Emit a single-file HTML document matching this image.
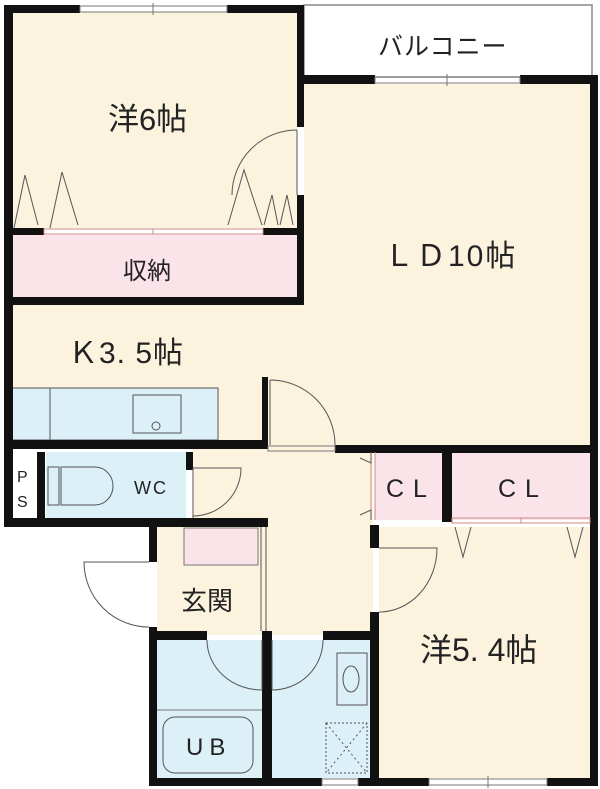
<!DOCTYPE html>
<html><head><meta charset="utf-8"><style>
html,body{margin:0;padding:0;background:#fff}
svg{display:block}
text{font-family:"Liberation Sans","Noto Sans CJK JP",sans-serif;fill:#222}
</style></head><body>
<svg width="600" height="789" viewBox="0 0 600 789" xmlns="http://www.w3.org/2000/svg">
<!-- fills -->
<rect x="12" y="12" width="285" height="216" fill="#fcf3df"/>
<rect x="12" y="235" width="285" height="62" fill="#fbe3ea"/>
<rect x="12" y="305" width="292" height="140" fill="#fcf3df"/>
<rect x="304" y="84" width="286" height="362" fill="#fcf3df"/>
<rect x="12" y="388" width="206" height="52" fill="#dcf0f8" stroke="#555" stroke-width="1"/>
<line x1="50" y1="388" x2="50" y2="440" stroke="#555"/>
<rect x="133" y="395" width="48" height="38" fill="none" stroke="#555"/>
<circle cx="156" cy="426" r="4" fill="none" stroke="#555"/>
<rect x="12" y="452" width="24" height="68" fill="#fff"/>
<rect x="46" y="452" width="140" height="66" fill="#dcf0f8"/>
<rect x="193" y="445" width="180" height="190" fill="#fcf3df"/>
<rect x="157" y="527" width="105" height="105" fill="#fcf3df"/>
<rect x="184" y="528" width="74" height="37" fill="#fbe3ea" stroke="#777" stroke-width="1"/>
<rect x="375" y="452" width="67" height="68" fill="#fbe3ea"/>
<rect x="452" y="452" width="138" height="68" fill="#fbe3ea"/>
<rect x="379" y="527" width="211" height="251" fill="#fcf3df"/>
<rect x="157" y="640" width="105" height="138" fill="#dcf0f8"/>
<rect x="272" y="640" width="98" height="138" fill="#dcf0f8"/>
<line x1="157" y1="710" x2="262" y2="710" stroke="#777"/>
<rect x="163" y="717" width="90" height="56" rx="12" fill="#dcf0f8" stroke="#555"/>
<rect x="337" y="653" width="30" height="52" fill="none" stroke="#555"/>
<ellipse cx="351" cy="679" rx="8" ry="13" fill="none" stroke="#555"/>
<rect x="326" y="723" width="41" height="50" fill="none" stroke="#555" stroke-dasharray="2,2"/>
<path d="M326 723 L367 773 M367 723 L326 773" stroke="#555" stroke-dasharray="2,3"/>
<!-- balcony -->
<rect x="304" y="5" width="288" height="72" fill="#fff" stroke="#888" stroke-width="1.5"/>
<!-- walls -->
<g fill="#111">
<rect x="4" y="5" width="9" height="522"/>
<rect x="4" y="5" width="76" height="8"/>
<rect x="227" y="5" width="77" height="8"/>
<rect x="297" y="5" width="7" height="122"/>
<rect x="297" y="195" width="7" height="110"/>
<rect x="297" y="75" width="78" height="9"/>
<rect x="520" y="75" width="78" height="9"/>
<rect x="590" y="75" width="8" height="711"/>
<rect x="4" y="228" width="40" height="7"/>
<rect x="263" y="228" width="41" height="7"/>
<rect x="4" y="297" width="300" height="8"/>
<rect x="262" y="377" width="6" height="71"/>
<rect x="4" y="440" width="264" height="9"/>
<rect x="335" y="445" width="263" height="8"/>
<rect x="37" y="452" width="8" height="70"/>
<rect x="186" y="452" width="7" height="18"/>
<rect x="4" y="518" width="264" height="9"/>
<rect x="442" y="452" width="10" height="70"/>
<rect x="370" y="525" width="9" height="23"/>
<rect x="370" y="612" width="9" height="174"/>
<rect x="149" y="518" width="8" height="44"/>
<rect x="149" y="627" width="8" height="159"/>
<rect x="149" y="631" width="58" height="9"/>
<rect x="262" y="631" width="10" height="155"/>
<rect x="323" y="631" width="56" height="9"/>
<rect x="149" y="778" width="173" height="8"/>
<rect x="358" y="778" width="71" height="8"/>
<rect x="547" y="778" width="51" height="8"/>
</g>
<!-- windows -->
<g stroke="#777" fill="none">
<rect x="80" y="6" width="147" height="6"/><line x1="153" y1="3" x2="153" y2="15"/>
<rect x="375" y="77" width="145" height="6"/><line x1="447" y1="74" x2="447" y2="86"/>
<rect x="429" y="779" width="118" height="6"/><line x1="488" y1="776" x2="488" y2="788"/>
<rect x="322" y="779" width="36" height="6"/>
<rect x="268" y="446" width="67" height="5"/>
</g>
<!-- sliding doors / closet lines -->
<g stroke="#c88" fill="none">
<rect x="44" y="229" width="219" height="5"/><line x1="153" y1="229" x2="153" y2="234"/>
<rect x="452" y="518" width="138" height="5"/><line x1="521" y1="518" x2="521" y2="523"/>
<line x1="371" y1="452" x2="371" y2="520"/><line x1="375" y1="452" x2="375" y2="520"/>
</g>
<!-- door swings -->
<g stroke="#555" fill="none" stroke-width="1">
<path d="M297 130 A65 65 0 0 0 232 195"/><line x1="297" y1="130" x2="297" y2="195"/>
<path d="M14 228 L25 175 L38 225 M50 228 L62 172 L78 225"/>
<path d="M228 225 L244 170 L262 225 M264 225 L272 195 L278 225 M280 225 L287 195 L293 225"/>
<path d="M270 380 A65 65 0 0 1 335 445"/><line x1="270" y1="380" x2="270" y2="445"/>
<path d="M193 468 L241 468 A48 48 0 0 1 193 516"/><line x1="193" y1="468" x2="193" y2="518"/>
<path d="M149 562 L84 562 A65 65 0 0 0 149 627"/>
<path d="M379 548 L437 548 A58 64 0 0 1 379 612"/>
<path d="M207 640 A55 50 0 0 0 262 690"/><line x1="262" y1="640" x2="262" y2="690"/>
<path d="M323 640 A51 50 0 0 1 272 690"/><line x1="272" y1="640" x2="272" y2="690"/>
<path d="M455 527 L463 557 L471 527 M567 527 L575 557 L583 527"/>
<path d="M360 458 L371 463 L371 452 M360 515 L371 510 L371 520"/>
<line x1="261" y1="527" x2="261" y2="631"/><line x1="266" y1="527" x2="266" y2="631"/>
</g>
<!-- toilet -->
<g stroke="#555" fill="#dcf0f8">
<rect x="48" y="467" width="11" height="38"/>
<path d="M61 467 L95 467 A18 19 0 0 1 95 505 L61 505 Z"/>
</g>
<!-- labels -->
<text x="378" y="55" font-size="25" letter-spacing="1">バルコニー</text>
<text x="108" y="130" font-size="31">洋6帖</text>
<text x="123" y="279" font-size="24">収納</text>
<text x="384" y="266" font-size="30" letter-spacing="2">ＬＤ10帖</text>
<text x="68" y="363" font-size="30" letter-spacing="1">Ｋ3. 5帖</text>
<text x="17" y="482" font-size="16">P</text>
<text x="17" y="507" font-size="16">S</text>
<text x="134" y="494" font-size="18" letter-spacing="2">WC</text>
<text x="386" y="497" font-size="25" letter-spacing="9">CL</text>
<text x="498" y="497" font-size="25" letter-spacing="9">CL</text>
<text x="181" y="610" font-size="26">玄関</text>
<text x="420" y="661" font-size="32">洋5. 4帖</text>
<text x="186" y="755" font-size="24" letter-spacing="6">UB</text>
</svg>
</body></html>
